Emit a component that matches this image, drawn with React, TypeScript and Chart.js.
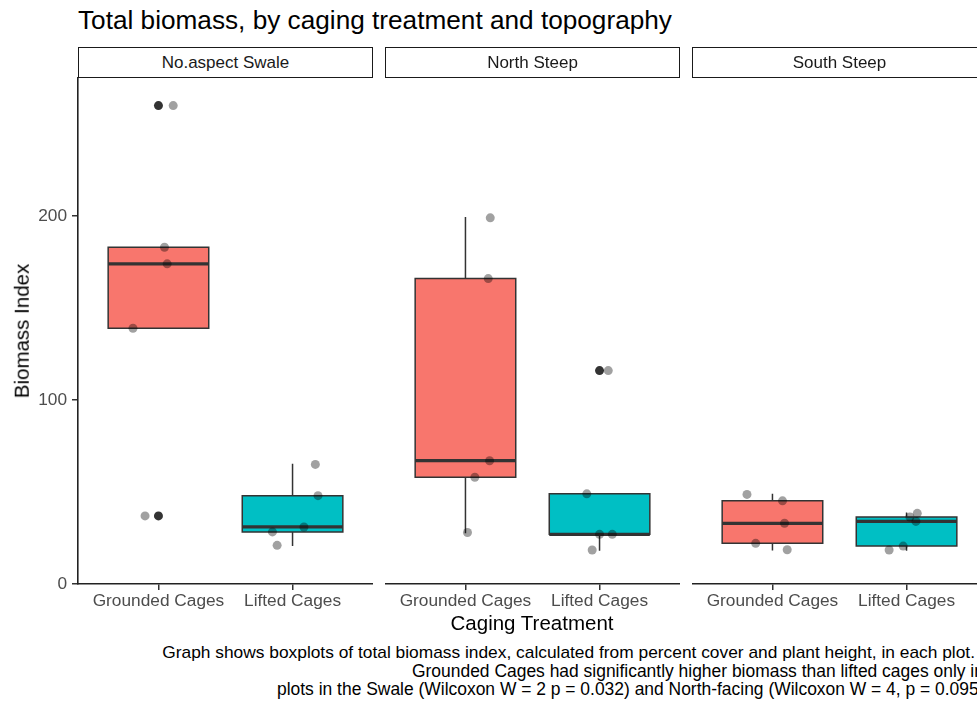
import React, { useEffect, useRef } from "react";
import { Chart, registerables } from "chart.js";

Chart.register(...registerables);

// ---------------- data ----------------
const chartTitle = "Total biomass, by caging treatment and topography";
const facets = ["No.aspect Swale", "North Steep", "South Steep"];
const categories = ["Grounded Cages", "Lifted Cages"];
const yTicks = [0, 100, 200];
const yMax = 275;
const xTitle = "Caging Treatment";
const yTitle = "Biomass Index";
const captionLines = [
  "Graph shows boxplots of total biomass index, calculated from percent cover and plant height, in each plot.",
  "Grounded Cages had significantly higher biomass than lifted cages only in",
  "plots in the Swale (Wilcoxon W = 2 p = 0.032) and North-facing (Wilcoxon W = 4, p = 0.095)",
];

// biomass index per plot
const swaleGrounded = [260, 183, 174, 139, 37];
const swaleLifted = [65, 48, 31, 28.3, 21];
const northGrounded = [199, 166, 67, 58, 28];
const northLifted = [116, 49, 27, 27, 18.5];
const southGrounded = [48.7, 45.2, 33, 22.1, 18.6];
const southLifted = [38.4, 36.4, 34, 20.6, 18.5];

// horizontal jitter of each plotted point (category units)
const swaleGroundedJitter = [0.11, 0.045, 0.065, -0.19, -0.1];
const swaleLiftedJitter = [0.17, 0.19, 0.085, -0.15, -0.115];
const northGroundedJitter = [0.185, 0.17, 0.18, 0.07, 0.015];
const northLiftedJitter = [0.065, -0.095, 0, 0.095, -0.055];
const southGroundedJitter = [-0.19, 0.075, 0.09, -0.125, 0.11];
const southLiftedJitter = [0.08, 0.025, 0.07, -0.025, -0.13];

const panelGroups = [
  [swaleGrounded, swaleLifted],
  [northGrounded, northLifted],
  [southGrounded, southLifted],
];
const panelJitters = [
  [swaleGroundedJitter, swaleLiftedJitter],
  [northGroundedJitter, northLiftedJitter],
  [southGroundedJitter, southLiftedJitter],
];

// ---------------- styling ----------------
const FONT = "'Liberation Sans', Arial, Helvetica, sans-serif";
const fillColors = ["#F8766D", "#00BFC4"];
const lineColor = "#333333";
const axisColor = "#222222";
const tickTextColor = "#4D4D4D";
const BOX_HALF = 0.375;

const PANEL_TOP = 78;
const PANEL_BOTTOM = 584;
const CANVAS_TOP = 60;
const X_AXIS_H = 46;
const CANVAS_H = PANEL_BOTTOM + X_AXIS_H - CANVAS_TOP;
const Y_AXIS_W = 78;
const panelLefts = [78, 385, 692];
const PANEL_W = 295;

function quantile(sorted: number[], p: number) {
  const h = (sorted.length - 1) * p;
  const lo = Math.floor(h);
  const hi = Math.ceil(h);
  return sorted[lo] + (sorted[hi] - sorted[lo]) * (h - lo);
}

function boxStats(vals: number[]) {
  const s = [...vals].sort((a, b) => a - b);
  const q1 = quantile(s, 0.25);
  const med = quantile(s, 0.5);
  const q3 = quantile(s, 0.75);
  const iqr = q3 - q1;
  const inside = s.filter((v) => v >= q1 - 1.5 * iqr && v <= q3 + 1.5 * iqr);
  const lo = Math.min(...inside);
  const hi = Math.max(...inside);
  const outliers = s.filter((v) => v < q1 - 1.5 * iqr || v > q3 + 1.5 * iqr);
  return { q1, med, q3, lo, hi, outliers };
}

function buildDatasets(groups: number[][], jitters: number[][]) {
  const ds: any[] = [];
  groups.forEach((vals, i) => {
    const x = i + 1;
    const st = boxStats(vals);
    ds.push({
      type: "line",
      data: [
        { x: x - BOX_HALF, y: st.q3 },
        { x: x + BOX_HALF, y: st.q3 },
      ],
      fill: { value: st.q1 },
      backgroundColor: fillColors[i],
      borderColor: "rgba(0,0,0,0)",
      borderWidth: 0,
      pointRadius: 0,
      order: 6,
    });
    ds.push({
      type: "line",
      data: [
        { x: x, y: st.q3 },
        { x: x, y: st.hi },
        { x: x, y: null },
        { x: x, y: st.q1 },
        { x: x, y: st.lo },
        { x: x, y: null },
        { x: x - BOX_HALF, y: st.q1 },
        { x: x - BOX_HALF, y: st.q3 },
        { x: x + BOX_HALF, y: st.q3 },
        { x: x + BOX_HALF, y: st.q1 },
        { x: x - BOX_HALF, y: st.q1 },
      ],
      fill: false,
      borderColor: lineColor,
      borderWidth: 1.5,
      borderCapStyle: "square",
      borderJoinStyle: "miter",
      pointRadius: 0,
      spanGaps: false,
      order: 5,
    });
    ds.push({
      type: "line",
      data: [
        { x: x - BOX_HALF, y: st.med },
        { x: x + BOX_HALF, y: st.med },
      ],
      fill: false,
      borderColor: lineColor,
      borderWidth: 3.2,
      pointRadius: 0,
      order: 4,
    });
    ds.push({
      type: "line",
      showLine: false,
      data: st.outliers.map((v) => ({ x: x, y: v })),
      pointRadius: 4.5,
      pointBackgroundColor: lineColor,
      pointBorderWidth: 0,
      borderColor: "rgba(0,0,0,0)",
      order: 3,
    });
    ds.push({
      type: "line",
      showLine: false,
      data: vals.map((v, k) => ({ x: x + jitters[i][k], y: v })),
      pointRadius: 4.5,
      pointBackgroundColor: "rgba(0,0,0,0.37)",
      pointBorderWidth: 0,
      borderColor: "rgba(0,0,0,0)",
      order: 1,
    });
  });
  return ds;
}

function Panel({ index }: { index: number }) {
  const ref = useRef<HTMLCanvasElement | null>(null);
  const showY = index === 0;
  const left = showY ? 0 : panelLefts[index];
  const width = showY ? panelLefts[0] + PANEL_W : PANEL_W;

  useEffect(() => {
    if (!ref.current) return;
    // plugin that pins the plot area to the panel rectangle
    const pinArea = {
      id: "pinArea",
      afterLayout(chart: any) {
        const a = chart.chartArea;
        const top = PANEL_TOP - CANVAS_TOP;
        const bottom = PANEL_BOTTOM - CANVAS_TOP;
        const l = showY ? Y_AXIS_W : 0;
        a.top = top;
        a.bottom = bottom;
        a.left = l;
        a.right = width;
        a.width = width - l;
        a.height = bottom - top;
        const xs = chart.scales.x;
        xs.left = l;
        xs.right = width;
        xs.width = width - l;
        xs.top = bottom;
        xs.bottom = bottom + X_AXIS_H;
        const ys = chart.scales.y;
        ys.top = top;
        ys.bottom = bottom;
        ys.height = bottom - top;
        ys.right = l;
        ys.left = 0;
        xs.configure();
        ys.configure();
        xs._labelItems = null;
        ys._labelItems = null;
        xs._gridLineItems = null;
        ys._gridLineItems = null;
      },
    };
    const chart = new Chart(ref.current, {
      type: "line",
      data: { datasets: buildDatasets(panelGroups[index], panelJitters[index]) },
      plugins: [pinArea],
      options: {
        animation: false,
        responsive: false,
        devicePixelRatio: 1,
        events: [],
        layout: { padding: 0 },
        plugins: { legend: { display: false }, tooltip: { enabled: false } },
        scales: {
          x: {
            type: "linear",
            min: 0.4,
            max: 2.6,
            afterBuildTicks: (s: any) => {
              s.ticks = categories.map((_, i) => ({ value: i + 1 }));
            },
            afterFit: (s: any) => {
              s.height = X_AXIS_H;
            },
            ticks: {
              callback: (v: any) => categories[Math.round(Number(v)) - 1] ?? "",
              autoSkip: false,
              maxRotation: 0,
              minRotation: 0,
              font: { size: 17.3, family: FONT },
              color: tickTextColor,
              padding: 1,
            },
            grid: {
              display: true,
              drawOnChartArea: false,
              drawTicks: true,
              tickLength: 6,
              color: lineColor,
              lineWidth: 1.5,
            },
            border: { display: true, color: axisColor, width: 1.6 },
          },
          y: {
            type: "linear",
            display: showY,
            min: 0,
            max: yMax,
            afterBuildTicks: (s: any) => {
              s.ticks = yTicks.map((v) => ({ value: v }));
            },
            afterFit: (s: any) => {
              if (showY) s.width = Y_AXIS_W;
            },
            ticks: {
              font: { size: 17.3, family: FONT },
              color: tickTextColor,
              padding: 5,
            },
            grid: {
              display: true,
              drawOnChartArea: false,
              drawTicks: true,
              tickLength: 6,
              color: lineColor,
              lineWidth: 1.5,
            },
            border: { display: true, color: axisColor, width: 1.6 },
          },
        },
      } as any,
    });
    return () => chart.destroy();
  }, [index]);

  return (
    <canvas
      ref={ref}
      width={width}
      height={CANVAS_H}
      style={{ position: "absolute", left, top: CANVAS_TOP, width, height: CANVAS_H }}
    />
  );
}

export default function App() {
  return (
    <div
      style={{
        position: "absolute",
        left: 0,
        top: 0,
        width: 977,
        height: 702,
        overflow: "hidden",
        background: "#ffffff",
        fontFamily: FONT,
        color: "#000",
      }}
    >
      <div
        style={{
          position: "absolute",
          left: 78,
          top: 7,
          fontSize: 26.2,
          lineHeight: 1,
          whiteSpace: "nowrap",
        }}
      >
        {chartTitle}
      </div>
      {[0, 1, 2].map((i) => (
        <Panel key={i} index={i} />
      ))}
      {facets.map((f, i) => (
        <div
          key={f}
          style={{
            position: "absolute",
            left: panelLefts[i],
            top: 47,
            width: PANEL_W,
            height: 31,
            boxSizing: "border-box",
            border: "1.6px solid #1A1A1A",
            background: "#fff",
            display: "flex",
            alignItems: "center",
            justifyContent: "center",
            fontSize: 17,
            color: "#1A1A1A",
            lineHeight: 1,
            whiteSpace: "nowrap",
          }}
        >
          {f}
        </div>
      ))}
      <div
        style={{
          position: "absolute",
          left: 22,
          top: 331,
          transform: "translate(-50%, -50%) rotate(-90deg)",
          fontSize: 20.5,
          lineHeight: 1,
          whiteSpace: "nowrap",
        }}
      >
        {yTitle}
      </div>
      <div
        style={{
          position: "absolute",
          left: 532,
          top: 613,
          transform: "translateX(-50%)",
          fontSize: 20.5,
          lineHeight: 1,
          whiteSpace: "nowrap",
        }}
      >
        {xTitle}
      </div>
      <div
        style={{
          position: "absolute",
          right: 2,
          top: 643,
          fontSize: 17.35,
          lineHeight: "19px",
          whiteSpace: "nowrap",
          textAlign: "right",
        }}
      >
        {captionLines[0]}
      </div>
      {captionLines.slice(1).map((line, i) => (
        <div
          key={i}
          style={{
            position: "absolute",
            left: [412, 277][i],
            top: [662, 680][i],
            fontSize: 17.45,
            lineHeight: "19px",
            whiteSpace: "nowrap",
          }}
        >
          {line}
        </div>
      ))}
    </div>
  );
}
